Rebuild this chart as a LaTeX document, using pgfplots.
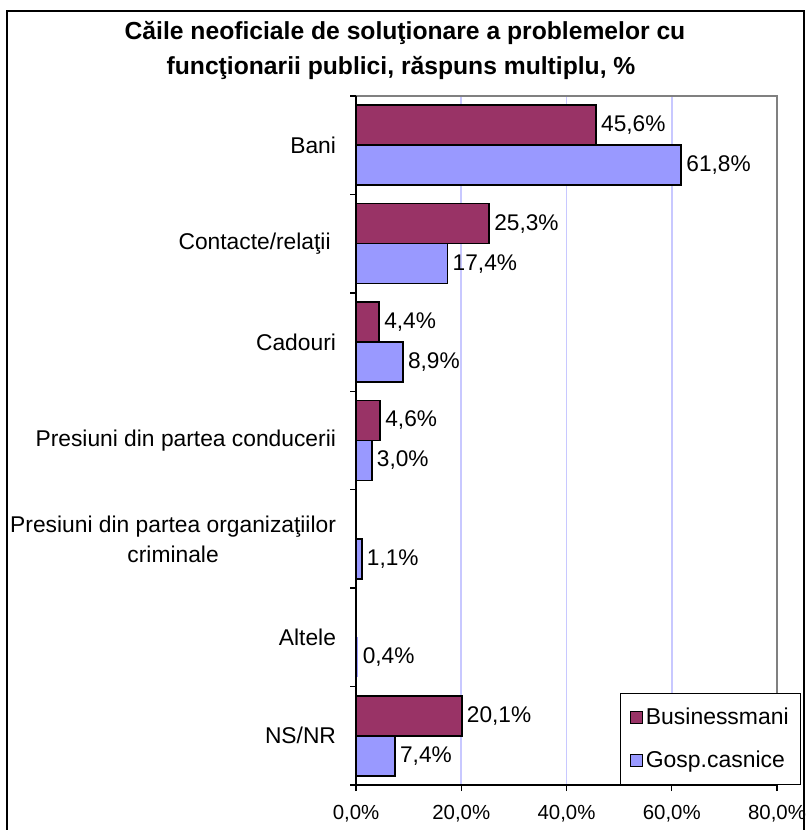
\documentclass[border=0pt]{standalone}
\usepackage{pgfplots}
\pgfplotsset{compat=1.18}
\usepackage{fontspec}
\setmainfont{Liberation Sans}
\definecolor{biz}{HTML}{993366}
\definecolor{gosp}{HTML}{9999FF}
\definecolor{gridc}{HTML}{C8C8FF}
\begin{document}
\begin{tikzpicture}[x=0.75pt,y=0.75pt]
\clip (0,0) rectangle (808,830);
\fill[white] (0,0) rectangle (808,830);
\draw[line width=1.5pt] (7,-10) -- (7,819) -- (804,819) -- (804,-10);
\node[font=\bfseries\fontsize{18.5}{22}\selectfont] at (405,797) {Căile neoficiale de soluţionare a problemelor cu};
\node[font=\bfseries\fontsize{18.5}{22}\selectfont] at (401,762) {funcţionarii publici, răspuns multiplu, \%};
\begin{axis}[
  at={(267pt,33.75pt)}, anchor=south west,
  scale only axis, width=315.75pt, height=516.75pt,
  xmin=0, xmax=80, ymin=-0.5, ymax=6.5,
  xbar, bar width=30pt,
  /pgf/number format/assume math mode=true,
  axis line style={draw=none},
  tick pos=left, tick align=outside,
  xtick={0,20,40,60,80},
  xticklabel={\pgfmathprintnumber[fixed,zerofill,precision=1,use comma]{\tick}\%},
  xticklabel style={font=\fontsize{15.3}{17}\selectfont, yshift=-7pt},
  xmajorgrids, grid style={color=gridc, line width=1.4pt},
  ytick={0,1,2,3,4,5,6},
  yticklabels={NS/NR, Altele, {Presiuni din partea organizaţiilor\\criminale}, Presiuni din partea conducerii, Cadouri, Contacte/relaţii\hspace*{4pt}, Bani},
  yticklabel style={font=\fontsize{17.1}{22.5}\selectfont, align=center, xshift=-7pt},
  minor ytick={-0.5,0.5,1.5,2.5,3.5,4.5,5.5,6.5},
  major y tick style={draw=none},
  minor y tick style={draw=black, line width=1pt},
  major x tick style={draw=black, line width=1pt},
  major tick length=4.5pt, minor tick length=4.5pt,
  point meta=x,
  nodes near coords={\pgfmathprintnumber[fixed,zerofill,precision=1,use comma]{\pgfplotspointmeta}\%},
  every node near coord/.append style={font=\fontsize{17}{18}\selectfont, anchor=west, text=black},
  legend style={at={(0.627,0)}, anchor=south west, draw=black, line width=1.1pt,
    font=\fontsize{17.2}{19}\selectfont, row sep=14pt, inner xsep=7pt, inner ysep=9pt,
    legend cell align=left},
  legend image code/.code={\draw[#1,draw=black,line width=0.9pt] (0pt,-4.5pt) rectangle (9pt,4.5pt);},
  after end axis/.code={
    \draw[color=gray, line width=1pt] (rel axis cs:0,1) -- (rel axis cs:1,1) -- (rel axis cs:1,0);
    \draw[black, line width=1.2pt] (rel axis cs:0,1) -- (rel axis cs:0,0) -- (rel axis cs:1,0);
  },
]
\addplot[fill=biz, draw=black, line width=1.1pt, bar shift=15pt] coordinates {
  (45.6,6) (25.3,5) (4.4,4) (4.6,3) (20.1,0)
};
\addplot[fill=gosp, draw=black, line width=1.1pt, bar shift=-15pt] coordinates {
  (61.8,6) (17.4,5) (8.9,4) (3.0,3) (1.1,2) (7.4,0)
};
\addplot[fill=gosp, draw=none, bar shift=-15pt, forget plot] coordinates {
  (0.4,1)
};
\legend{Businessmani, Gosp.casnice}
\end{axis}
\end{tikzpicture}
\end{document}
